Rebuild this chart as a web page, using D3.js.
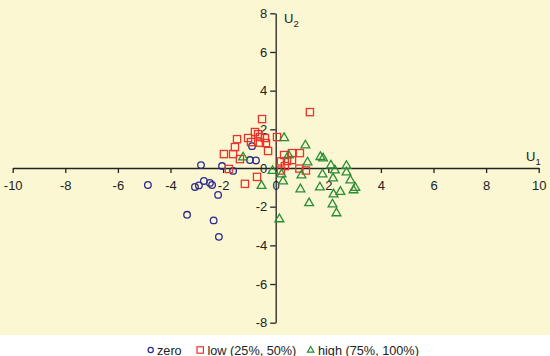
<!DOCTYPE html>
<html><head><meta charset="utf-8">
<script src="https://cdn.jsdelivr.net/npm/d3@7"></script>
<style>
html,body{margin:0;padding:0;background:#fff;}
svg{display:block;font-family:"Liberation Sans",Arial,sans-serif;}
</style></head>
<body><svg id="c" width="550" height="356"></svg>
<script>
// ---- data ----
const xTicks = [-10,-8,-6,-4,-2,0,2,4,6,8,10];
const yTicks = [-8,-6,-4,-2,0,2,4,6,8];
const seriesNames = ["zero","low (25%, 50%)","high (75%, 100%)"];
const zeroU1 = [-4.86,-2.84,-2.04,-1.62,-3.07,-2.92,-2.73,-2.50,-2.42,-2.19,-3.37,-2.36,-2.16,-0.90,-0.98,-0.75];
const zeroU2 = [-0.88,0.15,0.10,-0.15,-0.98,-0.90,-0.67,-0.77,-0.88,-1.39,-2.42,-2.71,-3.56,1.13,0.41,0.39];
const lowU1 = [-0.52,1.30,-0.79,-0.67,-1.05,-0.94,-1.47,-1.55,-1.97,-1.62,-0.60,-0.41,-0.60,-0.37,-0.29,0.05,-1.36,-1.78,-1.17,-0.71,0.32,0.62,0.92,0.20,0.43,0.62,0.35,0.20,0.90,1.15];
const lowU2 = [2.53,2.89,1.86,1.75,1.55,1.34,1.49,1.08,0.72,0.72,1.60,1.55,1.31,1.29,0.88,1.60,0.46,-0.05,-0.82,-0.46,0.67,0.77,0.77,0.34,0.36,0.41,0.10,-0.13,-0.03,-0.13];
const highU1 = [-1.24,-0.12,0.32,0.49,0.22,0.28,-0.54,0.14,1.13,1.21,1.70,1.80,2.10,2.69,0.98,1.78,2.25,2.69,2.18,0.94,1.68,2.84,3.03,2.96,2.46,2.20,1.27,2.16,2.31];
const highU2 = [0.57,-0.13,1.57,0.67,-0.31,-0.67,-0.90,-2.63,1.19,0.31,0.59,0.52,0.15,0.13,-0.36,-0.31,-0.10,-0.21,-0.52,-1.08,-0.98,-0.62,-1.01,-1.13,-1.21,-1.34,-1.80,-1.86,-2.32];

// ---- chart ----
const svg = d3.select("#c");
const colors = ["#2b2a8c","#e8342c","#2a8c34"];
const bg = "#fbf7d2";
svg.append("rect").attr("x",0).attr("y",0).attr("width",550).attr("height",335).attr("fill",bg);

const x = d3.scaleLinear().domain([-10,10]).range([12.7,538.7]);
const y = d3.scaleLinear().domain([-8,8]).range([322.7,13.3]);

const axCol = "#222";
const gx = svg.append("g").attr("transform",`translate(0,${y(0)})`)
  .call(d3.axisBottom(x).tickValues(xTicks).tickSize(5).tickSizeOuter(0).tickPadding(8)
    .tickFormat(d=>d<0?"-"+Math.abs(d):d));
const gy = svg.append("g").attr("transform",`translate(${x(0)},0)`)
  .call(d3.axisLeft(y).tickValues(yTicks).tickSize(5.5).tickSizeOuter(0).tickPadding(3)
    .tickFormat(d=>d<0?"-"+Math.abs(d):d));
[gx,gy].forEach(g=>{
  g.select(".domain").attr("stroke",axCol).attr("stroke-width",1.3);
  g.selectAll(".tick line").attr("stroke",axCol).attr("stroke-width",1.3);
  g.selectAll(".tick text").attr("fill","#222").attr("font-size",13)
    .attr("font-family","'Liberation Sans',Arial,sans-serif");
});

// axis titles
const t1 = svg.append("text").attr("x",526).attr("y",161).attr("font-size",13).attr("fill","#222");
t1.append("tspan").text("U");
t1.append("tspan").attr("dy",3.5).attr("font-size",9.5).text("1");
const t2 = svg.append("text").attr("x",284).attr("y",23).attr("font-size",13).attr("fill","#222");
t2.append("tspan").text("U");
t2.append("tspan").attr("dy",3.5).attr("font-size",9.5).text("2");

// markers
function tri(cx,cy,s){const h=s*0.87;return `M${cx},${cy-h*0.62}L${cx+s/2},${cy+h*0.38}L${cx-s/2},${cy+h*0.38}Z`;}
const plot = svg.append("g");
plot.selectAll(".z").data(zeroU1.map((v,i)=>[v,zeroU2[i]])).join("circle")
  .attr("cx",d=>x(d[0])).attr("cy",d=>y(d[1])).attr("r",3.3)
  .attr("fill","none").attr("stroke",colors[0]).attr("stroke-width",1.3);
plot.selectAll(".l").data(lowU1.map((v,i)=>[v,lowU2[i]])).join("rect")
  .attr("x",d=>x(d[0])-3.6).attr("y",d=>y(d[1])-3.6).attr("width",7.2).attr("height",7.2)
  .attr("fill","none").attr("stroke",colors[1]).attr("stroke-width",1.3);
plot.selectAll(".h").data(highU1.map((v,i)=>[v,highU2[i]])).join("path")
  .attr("d",d=>tri(x(d[0]),y(d[1]),8.8))
  .attr("fill","none").attr("stroke",colors[2]).attr("stroke-width",1.3);

// legend
const ly = 350;
const lg = svg.append("g");
lg.append("circle").attr("cx",150.7).attr("cy",ly).attr("r",2.6).attr("fill","none").attr("stroke",colors[0]).attr("stroke-width",1.2);
lg.append("text").attr("x",157).attr("y",ly+4.5).attr("font-size",12.7).attr("fill","#222").text(seriesNames[0]);
lg.append("rect").attr("x",197).attr("y",ly-3.2).attr("width",6.4).attr("height",6.4).attr("fill","none").attr("stroke",colors[1]).attr("stroke-width",1.2);
lg.append("text").attr("x",207.5).attr("y",ly+4.5).attr("font-size",12.7).attr("fill","#222").text(seriesNames[1]);
lg.append("path").attr("d",tri(310.7,ly,6.5)).attr("fill","none").attr("stroke",colors[2]).attr("stroke-width",1.2);
lg.append("text").attr("x",318).attr("y",ly+4.5).attr("font-size",12.7).attr("fill","#222").text(seriesNames[2]);
</script></body></html>
